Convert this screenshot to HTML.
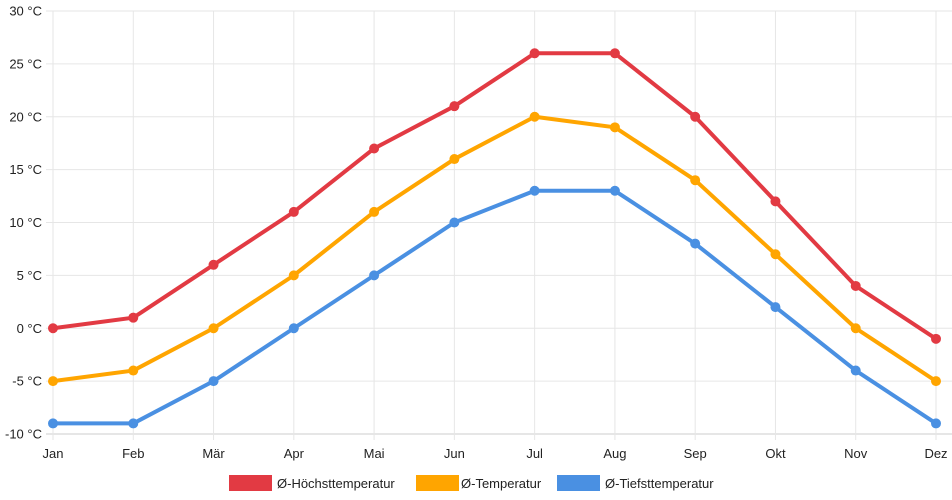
<!DOCTYPE html>
<html><head><meta charset="utf-8"><style>
html,body{margin:0;padding:0;background:#fff;}
svg{display:block;font-family:"Liberation Sans",Arial,sans-serif;}
</style></head><body>
<svg id="chart" width="952" height="500" viewBox="0 0 952 500">
<g id="grid"></g>
<g id="axes"></g>
<g id="series"></g>
<g id="legend"></g>
</svg>
<script>
const months = ["Jan","Feb","Mär","Apr","Mai","Jun","Jul","Aug","Sep","Okt","Nov","Dez"];
const highTemps = [0,1,6,11,17,21,26,26,20,12,4,-1];
const avgTemps = [-5,-4,0,5,11,16,20,19,14,7,0,-5];
const lowTemps = [-9,-9,-5,0,5,10,13,13,8,2,-4,-9];
const yTicks = [-10,-5,0,5,10,15,20,25,30];
const seriesNames = ["Ø-Höchsttemperatur","Ø-Temperatur","Ø-Tiefsttemperatur"];

const NS="http://www.w3.org/2000/svg";
const X0=53,X1=936,Y0=434,Y1=11,YMIN=-10,YMAX=30;
const xs=i=>X0+(X1-X0)*i/(months.length-1);
const ys=v=>Y0-(v-YMIN)/(YMAX-YMIN)*(Y0-Y1);
function mk(tag,attrs,parent){const e=document.createElementNS(NS,tag);for(const k in attrs)e.setAttribute(k,attrs[k]);parent.appendChild(e);return e;}
const grid=document.getElementById('grid'),axes=document.getElementById('axes'),ser=document.getElementById('series'),leg=document.getElementById('legend');

yTicks.forEach(t=>{
  const y=ys(t);
  const l=mk('line',{x1:46,x2:952,y1:y,y2:y,stroke:t===YMIN?'#ccc':'#e6e6e6','stroke-width':1},grid);
  
  
  const tx=mk('text',{x:42,y:y+4.5,'text-anchor':'end','font-size':13,fill:'#222'},axes);
  tx.textContent=t+' °C';
  
  
});
months.forEach((m,i)=>{
  const x=xs(i);
  const l=mk('line',{x1:x,x2:x,y1:Y1,y2:Y0+6,stroke:'#e6e6e6','stroke-width':1},grid);
  
  
  const tx=mk('text',{x:x,y:458,'text-anchor':'middle','font-size':13,fill:'#222'},axes);
  tx.textContent=m;
  
  
});

const allSeries=[[highTemps,'#e23a43','high'],[avgTemps,'#ffa500','avg'],[lowTemps,'#4a90e2','low']];
allSeries.forEach(([d,c,n])=>{
  const g=mk('g',{},ser);
  
  
  const p=mk('polyline',{points:d.map((v,i)=>xs(i)+','+ys(v)).join(' '),fill:'none',stroke:c,'stroke-width':4,'stroke-linejoin':'round'},g);
  
  
  d.forEach((v,i)=>{
    const ci=mk('circle',{cx:xs(i),cy:ys(v),r:5,fill:c},g);
    
    
  });
});

const legPos=[[229,277],[416,461],[557,605]];
seriesNames.forEach((s,i)=>{
  const g=mk('g',{},leg);
  
  
  mk('rect',{x:legPos[i][0],y:475,width:43,height:16,fill:allSeries[i][1]},g);
  const t=mk('text',{x:legPos[i][1],y:488,'font-size':13,fill:'#222'},g);
  t.textContent=s;
});
</script>
</body></html>
